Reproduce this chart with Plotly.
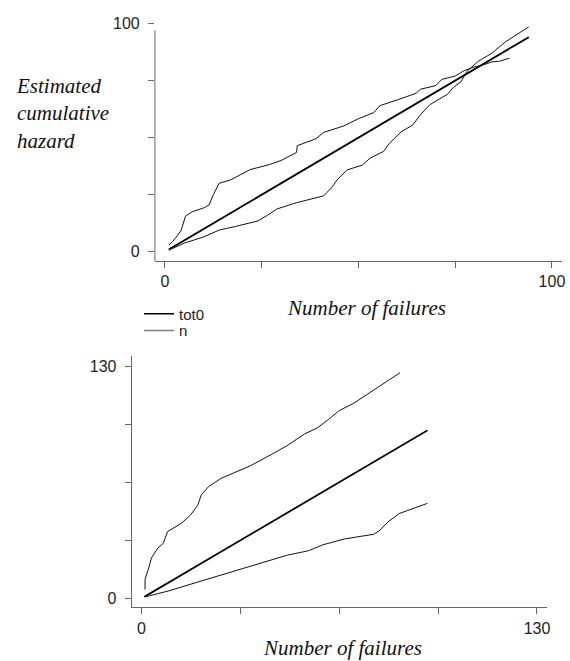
import plotly.graph_objects as go

# ---- data ----
DIAG_X = [1, 94]
TOT0_Y = [1, 94]
N_Y = [1, 94]

TOP_A_X = [1, 2, 3.2, 4.2, 5.3, 7, 10, 11.4, 12.5, 14, 17, 20, 22, 27, 30, 34, 34.2, 39, 41, 46,
           50, 54, 55.5, 60, 65, 66, 70, 71.5, 75, 77.5, 80, 82.5, 84.5, 86.5, 89]
TOP_A_Y = [2.9, 4.5, 7, 9.5, 15.6, 17.5, 19.2, 20.5, 25, 30, 31.5, 34, 36, 38.2, 40, 43.5, 46.5, 49.5, 52.3, 55,
           58.3, 61, 64, 66.5, 69.5, 71.2, 72.8, 75.5, 77, 79.5, 81, 82, 83.2, 83.5, 84.8]
TOP_B_X = [1, 5, 10, 14, 18, 24, 26.5, 29, 34, 41, 43, 44.5, 47, 51, 53, 56.5, 58, 61, 64, 66,
           68.5, 73, 74.5, 76.5, 78, 81, 84.5, 88, 94]
TOP_B_Y = [0.7, 3.8, 6.5, 9.5, 11, 13.5, 16, 18.8, 21.5, 24.5, 28, 31.5, 35.8, 38, 41, 44, 47.5, 52.5, 55.5, 60,
           64.5, 69, 72, 74.5, 79, 83.5, 87, 92, 98.5]

BOT_A_X = [1.2, 1.2, 2.4, 3.3, 5.4, 7.2, 8.6, 13.1, 16.1, 18.5, 19.7, 22.1, 26.2, 35.8, 42.9, 47.7,
           53.7, 57.8, 61.4, 65, 69.8, 75.1, 79.9, 85]
BOT_A_Y = [5, 10.7, 17.1, 22.7, 28.2, 30.9, 37.4, 42, 46.6, 52.1, 58, 62.6, 67.2, 74.2, 80.7, 85.3,
           92.1, 95.4, 100, 105.1, 109.2, 115.1, 120.3, 126.3]
BOT_B_X = [1.2, 8.9, 20.3, 31, 39.4, 47.7, 54.9, 59.6, 66.8, 76.3, 78.1, 81.1, 84.7, 88.8, 94]
BOT_B_Y = [0.9, 4.2, 10.1, 15.7, 19.9, 24.1, 26.7, 30, 33.3, 35.9, 37.8, 42.9, 47.5, 49.9, 53.2]

TOP_XTICKS = [0, 25, 50, 75, 100]
TOP_XTEXT = ["0", "", "", "", "100"]
TOP_YTICKS = [0, 25, 50, 75, 100]
TOP_YTEXT = ["0", "", "", "", "100"]
BOT_TICKS = [0, 32.5, 65, 97.5, 130]
BOT_TEXT = ["0", "", "", "", "130"]

W, H = 570, 661
AX_COL = "#666666"
TICK_FONT = dict(family="Liberation Sans, Arial, sans-serif", size=16, color="#222222")
TITLE_FONT = dict(family="Liberation Serif, Times New Roman, serif", size=21, color="#111111")
LEG_FONT = dict(family="Liberation Sans, Arial, sans-serif", size=15, color="#222222")

fig = go.Figure()

for xa, ya, ax, ay, bx, by, leg in [
    ("x", "y", TOP_A_X, TOP_A_Y, TOP_B_X, TOP_B_Y, True),
    ("x2", "y2", BOT_A_X, BOT_A_Y, BOT_B_X, BOT_B_Y, False),
]:
    fig.add_trace(go.Scatter(x=ax, y=ay, mode="lines", xaxis=xa, yaxis=ya, showlegend=False,
                             line=dict(color="#111111", width=1), hoverinfo="skip"))
    fig.add_trace(go.Scatter(x=bx, y=by, mode="lines", xaxis=xa, yaxis=ya, showlegend=False,
                             line=dict(color="#111111", width=1), hoverinfo="skip"))
    fig.add_trace(go.Scatter(x=DIAG_X, y=N_Y, mode="lines", xaxis=xa, yaxis=ya, name="n",
                             showlegend=leg, legend="legend2",
                             line=dict(color="#808080", width=1.6)))
    fig.add_trace(go.Scatter(x=DIAG_X, y=TOT0_Y, mode="lines", xaxis=xa, yaxis=ya, name="tot0",
                             showlegend=leg, legend="legend",
                             line=dict(color="#000000", width=1.6)))

common_axis = dict(showgrid=False, zeroline=False, ticks="outside", ticklen=6, tickwidth=1,
                   tickcolor=AX_COL, tickfont=TICK_FONT, linecolor=AX_COL, linewidth=1,
                   fixedrange=True)

fig.update_layout(
    width=W, height=H,
    margin=dict(l=0, r=0, t=0, b=0),
    paper_bgcolor="white", plot_bgcolor="white",
    showlegend=True,
    legend=dict(x=140 / W, y=1 - 293 / H, xanchor="left", yanchor="top", font=LEG_FONT,
                bgcolor="rgba(0,0,0,0)", itemwidth=30),
    legend2=dict(x=140 / W, y=1 - 310 / H, xanchor="left", yanchor="top", font=LEG_FONT,
                 bgcolor="rgba(0,0,0,0)", itemwidth=30),
    xaxis=dict(domain=[156 / W, 566 / W], range=[-2.6, 102.6], anchor="y",
               tickvals=TOP_XTICKS, ticktext=TOP_XTEXT, showline=True, **common_axis),
    yaxis=dict(domain=[1 - 256 / H, 1 - 15.7 / H], range=[-4.0, 100], anchor="x",
               tickvals=TOP_YTICKS, ticktext=TOP_YTEXT, showline=False,
               ticklabelstandoff=5, **common_axis),
    xaxis2=dict(domain=[132.6 / W, 550.6 / W], range=[-3.2, 133.2], anchor="y2",
                tickvals=BOT_TICKS, ticktext=BOT_TEXT, showline=True, **common_axis),
    yaxis2=dict(domain=[1 - 606.7 / H, 1 - 352.3 / H], range=[-4.97, 135.6], anchor="x2",
                tickvals=BOT_TICKS, ticktext=BOT_TEXT, showline=True,
                ticklabelstandoff=5, **common_axis),
)

# top y axis line (shorter than plot area, as in the reference)
fig.add_shape(type="line", xref="x domain", yref="y", x0=0, x1=0, y0=-4.0, y1=97,
              line=dict(color=AX_COL, width=1))

fig.add_annotation(text="<i>Estimated<br>cumulative<br>hazard</i>", xref="paper", yref="paper",
                   x=14 / W, y=1 - 106.7 / H, xanchor="left", yanchor="middle", align="left",
                   showarrow=False, font=TITLE_FONT)
fig.add_annotation(text="<i>Number of failures</i>", xref="paper", yref="paper",
                   x=369 / W, y=1 - 303.3 / H, xanchor="center", yanchor="middle",
                   showarrow=False, font=TITLE_FONT)
fig.add_annotation(text="<i>Number of failures</i>", xref="paper", yref="paper",
                   x=345 / W, y=1 - 648.3 / H, xanchor="center", yanchor="middle",
                   showarrow=False, font=TITLE_FONT)

fig.write_html("out.html", config={"displayModeBar": False},
               post_script="document.body.style.margin='0';")
